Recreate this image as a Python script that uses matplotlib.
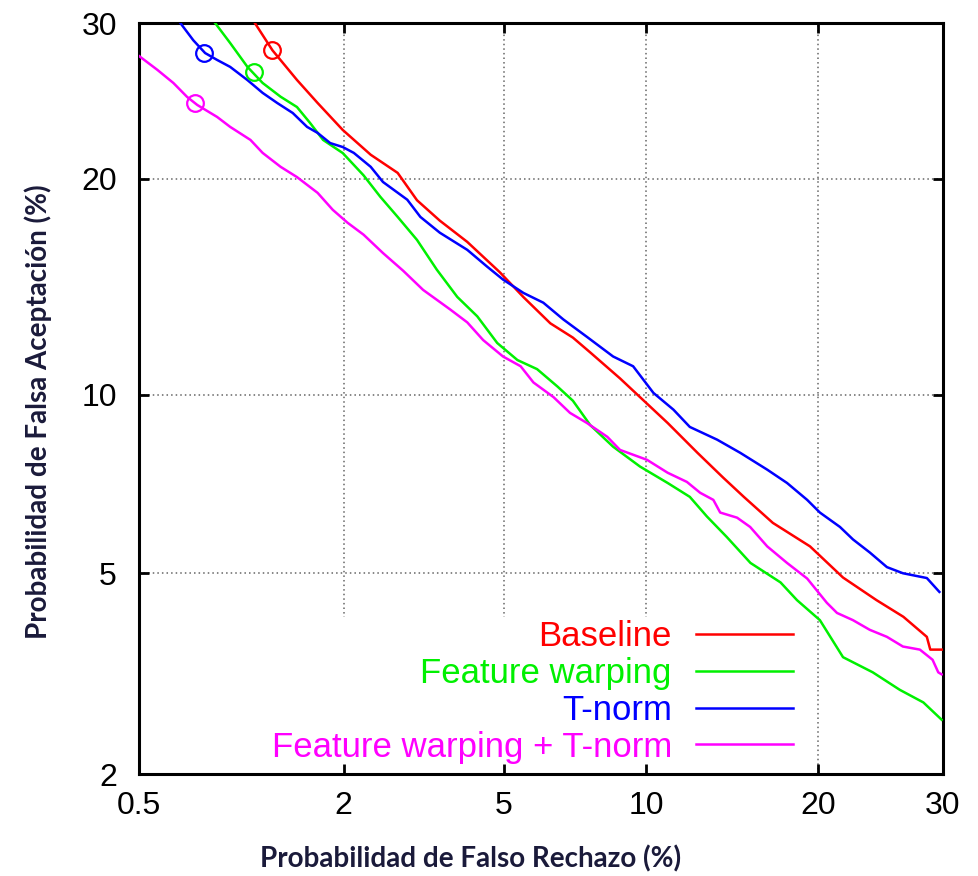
import math
import numpy as np
import matplotlib
matplotlib.use('Agg')
import matplotlib.pyplot as plt
from matplotlib.path import Path
from matplotlib.ticker import FixedLocator, FixedFormatter, NullLocator

# DET curves (false rejection %, false acceptance %)
baseline_fr = [1.13, 1.27, 1.49, 1.70, 1.99, 2.36, 2.77, 3.10, 3.53, 4.11, 4.90, 5.54, 6.35, 7.1, 7.72,
               8.88, 9.86, 11.0, 12.5, 13.9, 15.1, 16.9, 19.4, 21.8, 24.4, 26.6, 28.6, 28.9, 29.9]
baseline_fa = [30.0, 28.1, 26.1, 24.6, 22.9, 21.4, 20.34, 18.8, 17.7, 16.6, 15.1, 13.95, 12.8, 12.2, 11.6,
               10.6, 9.82, 9.03, 8.08, 7.35, 6.82, 6.15, 5.59, 4.91, 4.46, 4.15, 3.80, 3.59, 3.59]

fw_fr = [0.862, 0.956, 1.075, 1.19, 1.34, 1.49, 1.62, 1.76, 1.99, 2.26, 2.5, 2.77, 3.10, 3.47, 3.89, 4.34,
         4.83, 5.37, 5.94, 6.58, 7.1, 7.72, 8.6, 9.73, 11.0, 12.1, 13.0, 14.1, 15.5, 17.4, 18.5, 20.1,
         21.8, 24.1, 26.3, 28.3, 29.9]
fw_fa = [30.0, 28.6, 26.97, 25.9, 25.0, 24.34, 23.34, 22.29, 21.5, 20.2, 18.99, 17.9, 16.7, 15.23, 13.96, 13.1,
         11.98, 11.3, 10.95, 10.3, 9.79, 8.96, 8.27, 7.67, 7.2, 6.82, 6.31, 5.81, 5.22, 4.81, 4.46, 4.09,
         3.47, 3.24, 2.99, 2.82, 2.6]

tn_fr = [0.675, 0.74, 0.804, 0.874, 0.956, 1.075, 1.19, 1.31, 1.45, 1.59, 1.70, 1.84, 1.99, 2.13, 2.36, 2.54,
         2.93, 3.16, 3.53, 4.11, 4.58, 4.98, 5.54, 6.13, 6.77, 7.6, 8.6, 9.43, 10.33, 11.28, 12.1, 13.56,
         14.89, 16.54, 17.83, 19.2, 20.1, 21.57, 22.56, 23.87, 25.24, 26.56, 28.6, 29.7]
tn_fa = [30.0, 28.79, 27.91, 27.44, 26.97, 26.09, 25.25, 24.6, 23.96, 23.09, 22.72, 22.1, 21.86, 21.51, 20.69, 19.82,
         18.83, 17.90, 17.07, 16.2, 15.37, 14.76, 14.14, 13.70, 12.97, 12.23, 11.44, 11.06, 10.07, 9.48, 8.90, 8.49,
         8.08, 7.58, 7.2, 6.74, 6.41, 6.05, 5.75, 5.45, 5.13, 5.0, 4.9, 4.62]

fwtn_fr = [0.5, 0.572, 0.642, 0.708, 0.761, 0.874, 0.956, 1.097, 1.19, 1.34, 1.49, 1.70, 1.87, 2.05, 2.26, 2.54,
           2.86, 3.21, 3.47, 3.74, 4.11, 4.48, 4.98, 5.46, 5.83, 6.45, 7.0, 7.6, 8.37, 8.88, 10.04, 11.0,
           11.95, 12.64, 13.35, 13.73, 14.7, 15.48, 16.54, 17.83, 19.2, 20.6, 21.35, 22.55, 23.86, 25.24,
           26.56, 28.0, 29.1, 29.6, 29.9]
fwtn_fa = [27.71, 26.77, 25.9, 24.99, 24.47, 23.71, 23.09, 22.29, 21.51, 20.69, 20.1, 19.21, 18.28, 17.59, 16.97, 16.04,
           15.18, 14.28, 13.83, 13.4, 12.84, 12.1, 11.44, 11.06, 10.45, 9.92, 9.37, 9.03, 8.58, 8.17, 7.87, 7.49,
           7.23, 6.93, 6.74, 6.41, 6.28, 6.05, 5.59, 5.22, 4.89, 4.41, 4.22, 4.09, 3.92, 3.80,
           3.64, 3.59, 3.43, 3.24, 3.21]

# operating points (circles)
op_fr = [1.27, 1.12, 0.80, 0.75]
op_fa = [28.1, 26.63, 27.91, 24.6]

labels = ['Baseline', 'Feature warping', 'T-norm', 'Feature warping + T-norm']
colors = ['#ff0000', '#00f000', '#0000ff', '#ff00ff']
xticks = [0.5, 2, 5, 10, 20, 30]
yticks = [2, 5, 10, 20, 30]

# normal deviate scale (Acklam approximation)
_a = [-3.969683028665376e+01, 2.209460984245205e+02, -2.759285104469687e+02,
      1.383577518672690e+02, -3.066479806614716e+01, 2.506628277459239e+00]
_b = [-5.447609879822406e+01, 1.615858368580409e+02, -1.556989798598866e+02,
      6.680131188771972e+01, -1.328068155288572e+01]
_c = [-7.784894002430293e-03, -3.223964580411365e-01, -2.400758277161838e+00,
      -2.549732539343734e+00, 4.374664141464968e+00, 2.938163982698783e+00]
_d = [7.784695709041462e-03, 3.224671290700398e-01, 2.445134137142996e+00,
      3.754408661907416e+00]


def _ppf1(p):
    p = min(max(p, 1e-9), 1 - 1e-9)
    plow = 0.02425
    if p < plow or p > 1 - plow:
        q = math.sqrt(-2 * math.log(p if p < plow else 1 - p))
        v = (((((_c[0]*q+_c[1])*q+_c[2])*q+_c[3])*q+_c[4])*q+_c[5]) / \
            ((((_d[0]*q+_d[1])*q+_d[2])*q+_d[3])*q+1)
        return v if p < plow else -v
    q = p - 0.5
    r = q * q
    return (((((_a[0]*r+_a[1])*r+_a[2])*r+_a[3])*r+_a[4])*r+_a[5])*q / \
        (((((_b[0]*r+_b[1])*r+_b[2])*r+_b[3])*r+_b[4])*r+1)


_ppf = np.vectorize(_ppf1, otypes=[float])
_cdf = np.vectorize(lambda z: 0.5 * (1 + math.erf(z / math.sqrt(2))), otypes=[float])


def forward(x):
    return _ppf(np.asarray(x, dtype=float) / 100.0)


def inverse(z):
    return _cdf(np.asarray(z, dtype=float)) * 100.0


fig = plt.figure(figsize=(9.79, 8.76), dpi=100)
ax = fig.add_axes([0.142, 0.1164, 0.821, 0.8573])
ax.set_xscale('function', functions=(forward, inverse))
ax.set_yscale('function', functions=(forward, inverse))

series = [(baseline_fr, baseline_fa), (fw_fr, fw_fa), (tn_fr, tn_fa), (fwtn_fr, fwtn_fa)]
for (fr, fa), lab, col in zip(series, labels, colors):
    ax.plot(fr, fa, color=col, lw=1.8, label=lab, zorder=3)
for x, y, col in zip(op_fr, op_fa, colors):
    ax.plot([x], [y], 'o', ms=12, mfc='none', mec=col, mew=1.6, zorder=3)

ax.set_xlim(0.5, 30)
ax.set_ylim(2, 30)
ax.xaxis.set_major_locator(FixedLocator(xticks))
ax.xaxis.set_major_formatter(FixedFormatter([str(v) for v in xticks]))
ax.yaxis.set_major_locator(FixedLocator(yticks))
ax.yaxis.set_major_formatter(FixedFormatter([str(v) for v in yticks]))
ax.xaxis.set_minor_locator(NullLocator())
ax.yaxis.set_minor_locator(NullLocator())

for s in ax.spines.values():
    s.set_linewidth(2.2)
ax.tick_params(direction='in', length=7, width=2, top=True, right=True,
               labelsize=23, labelfontfamily='Liberation Sans')
ax.tick_params(axis='x', pad=12)
ax.tick_params(axis='y', pad=16)
ax.grid(True, color='#666666', linestyle=(0, (1, 2)), linewidth=1.1)
ax.set_axisbelow(True)

lab_font = dict(family=['Lato', 'DejaVu Sans'], weight='bold', size=20, color='#1a1a3a')
ax.set_xlabel('Probabilidad de Falso Rechazo (%)', **lab_font)
ax.xaxis.set_label_coords(0.413, -0.095)
ax.set_ylabel('Probabilidad de Falsa Aceptación (%)', **lab_font)
ax.yaxis.set_label_coords(-0.108, 0.482)

leg = ax.legend(loc='lower right', bbox_to_anchor=(0.827, 0.0), borderaxespad=0,
                markerfirst=False, labelcolor='linecolor', frameon=False,
                prop={'family': 'Liberation Sans', 'size': 25},
                handlelength=2.8, handletextpad=0.7, labelspacing=0.11, borderpad=0.3)

# gnuplot-style key box: grid lines do not run through the key area
fig.canvas.draw()
bb = leg.get_window_extent().transformed(ax.transAxes.inverted())
top, right = bb.y1 - 0.01, bb.x1
clip = Path([(0, top), (0, 1), (1, 1), (1, 0), (right, 0), (right, top), (0, top)])
for gl in ax.xaxis.get_gridlines() + ax.yaxis.get_gridlines():
    gl.set_clip_path(clip, ax.transAxes)

fig.savefig('out.png', dpi=100, facecolor='white')
